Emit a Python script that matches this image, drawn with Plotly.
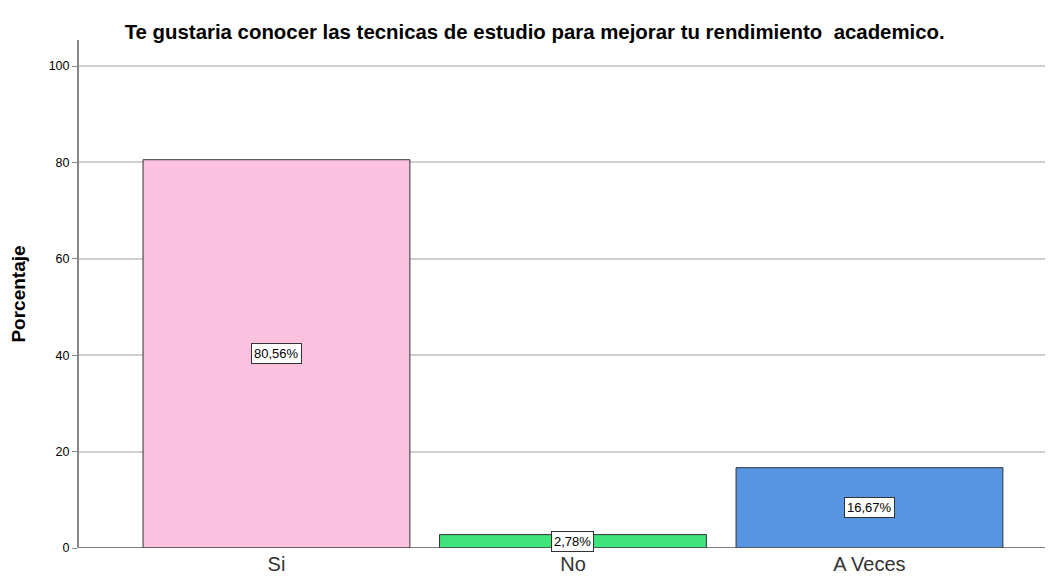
import plotly.graph_objects as go

# data
categorias = ["Si", "No", "A Veces"]
porcentajes = [80.56, 2.78, 16.67]
etiquetas = ["80,56%", "2,78%", "16,67%"]
colores = ["#FDC1E0", "#3EE47A", "#5595E2"]

fig = go.Figure(go.Bar(
    x=categorias,
    y=porcentajes,
    width=0.9,
    marker=dict(color=colores, line=dict(color="#333333", width=1)),
    hoverinfo="skip",
))

# value labels in white boxes at the middle of each bar
for cat, val, txt in zip(categorias, porcentajes, etiquetas):
    fig.add_annotation(
        x=cat, y=val / 2, text=txt, showarrow=False,
        font=dict(family="Liberation Sans, Arial", size=13, color="black"),
        bgcolor="white", bordercolor="#333333", borderwidth=1, borderpad=2,
    )

# page body has an 8px margin, so the figure is a bit smaller and shifted
fig.update_layout(
    width=1045, height=568,
    margin=dict(l=71, r=0, t=32, b=28, autoexpand=False),
    paper_bgcolor="white", plot_bgcolor="white",
    showlegend=False,
    title=dict(
        text="<b>Te gustaria conocer las tecnicas de estudio para mejorar tu rendimiento  academico.</b>",
        x=0.504, xanchor="center", y=0.958, yanchor="middle",
        font=dict(family="Liberation Sans, Arial", size=20.4, color="black"),
    ),
    xaxis=dict(
        range=[-0.666, 2.619], showgrid=False, ticks="",
        showline=False, zeroline=False, automargin=False,
        ticklabelstandoff=2,
        tickfont=dict(family="Liberation Sans, Arial", size=20, color="#333333"),
    ),
    yaxis=dict(
        range=[0, 105.4], tickvals=[0, 20, 40, 60, 80, 100],
        showgrid=True, gridcolor="#D0D0D0", gridwidth=2,
        showline=True, linecolor="#888888", linewidth=2,
        ticks="outside", ticklen=5, tickcolor="#888888",
        zeroline=False, automargin=False,
        tickfont=dict(family="Liberation Sans, Arial", size=12.5, color="black"),
        title=dict(text="<b>Porcentaje</b>", standoff=20,
                   font=dict(family="Liberation Sans, Arial", size=19, color="black")),
    ),
)

# x baseline
fig.add_shape(type="line", xref="paper", yref="y", x0=0, x1=1, y0=0, y1=0,
              line=dict(color="#555555", width=1.5))

fig.write_html("out.html")
